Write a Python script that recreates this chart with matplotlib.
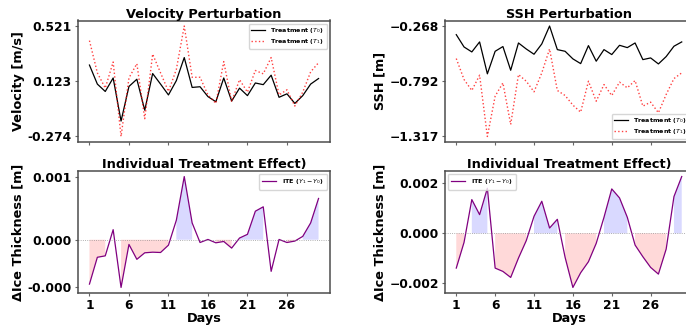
import numpy as np
import matplotlib
matplotlib.use("Agg")
import matplotlib.pyplot as plt
from matplotlib.ticker import FixedLocator, FixedFormatter

days = np.arange(1, 31)
day_ticks = [1, 6, 11, 16, 21, 26]

vel_t0 = [0.240, 0.103, 0.050, 0.147, -0.163, 0.086, 0.138, -0.085, 0.179, 0.103,
          0.025, 0.128, 0.294, 0.079, 0.084, 0.013, -0.024, 0.147, -0.019, 0.074,
          0.020, 0.111, 0.099, 0.167, 0.008, 0.033, -0.036, 0.020, 0.103, 0.143]
vel_t1 = [0.416, 0.184, 0.074, 0.262, -0.274, 0.147, 0.250, -0.146, 0.319, 0.184,
          0.050, 0.209, 0.521, 0.152, 0.152, 0.025, -0.036, 0.265, -0.024, 0.135,
          0.045, 0.201, 0.177, 0.294, 0.025, 0.062, -0.055, 0.045, 0.191, 0.257]

ssh_t0 = [-0.350, -0.467, -0.514, -0.419, -0.722, -0.508, -0.463, -0.688, -0.429, -0.486,
          -0.536, -0.438, -0.268, -0.492, -0.508, -0.580, -0.625, -0.454, -0.602, -0.492,
          -0.539, -0.451, -0.473, -0.429, -0.587, -0.571, -0.628, -0.558, -0.460, -0.419]
ssh_t1 = [-0.577, -0.776, -0.880, -0.735, -1.317, -0.934, -0.808, -1.203, -0.729, -0.792,
          -0.893, -0.713, -0.486, -0.880, -0.928, -1.019, -1.086, -0.792, -0.982, -0.824,
          -0.928, -0.801, -0.855, -0.786, -1.029, -0.991, -1.092, -0.918, -0.767, -0.713]

ite_vel = [-0.000435, -0.000172, -0.000158, 0.000099, -0.000468, -0.000046, -0.000192,
           -0.000128, -0.000122, -0.000125, -0.000053, 0.000192, 0.000620, 0.000165,
           -0.000027, 0.000003, -0.000030, -0.000017, -0.000082, 0.000017, 0.000053,
           0.000280, 0.000323, -0.000310, 0.000003, -0.000027, -0.000013, 0.000033,
           0.000165, 0.000405]
ite_ssh = [-0.001387, -0.000360, 0.001347, 0.000747, 0.001800, -0.001387, -0.001520,
           -0.001760, -0.000987, -0.000293, 0.000680, 0.001280, 0.000213, 0.000560,
           -0.000960, -0.002160, -0.001573, -0.001133, -0.000400, 0.000640, 0.001773,
           0.001413, 0.000640, -0.000467, -0.000933, -0.001360, -0.001627, -0.000627,
           0.001467, 0.002267]

W, H = 686, 327
fig = plt.figure(figsize=(W / 100, H / 100), dpi=100)

def px_axes(x0, y0, x1, y1):
    return fig.add_axes([x0 / W, 1 - y1 / H, (x1 - x0) / W, (y1 - y0) / H])

ax1 = px_axes(78, 20.5, 330, 142)
ax2 = px_axes(445, 20.5, 693, 142)
ax3 = px_axes(78, 171, 330, 293)
ax4 = px_axes(445, 171, 693, 293)

TS = 9.3
TK = 8.8
LG = 4.6

def style(ax):
    for s in ax.spines.values():
        s.set_color('0.3')
        s.set_linewidth(1.1)
    ax.tick_params(axis='both', length=2.5, width=0.8, color='0.4', labelsize=TK, pad=2)
    for lab in ax.get_xticklabels() + ax.get_yticklabels():
        lab.set_fontweight('bold')
    ax.xaxis.set_major_locator(FixedLocator(day_ticks))

def set_yticks(ax, vals, labels):
    ax.yaxis.set_major_locator(FixedLocator(vals))
    ax.yaxis.set_major_formatter(FixedFormatter(labels))

# Velocity
ax1.plot(days, vel_t0, color='black', lw=0.9, label='Treatment ($T_0$)')
ax1.plot(days, vel_t1, color='red', lw=1.0, ls=':', alpha=0.75, label='Treatment ($T_1$)')
allv = np.array(vel_t0 + vel_t1)
vt = np.linspace(allv.min(), allv.max(), 3)
set_yticks(ax1, vt, [f"{v:.3f}" for v in vt])
ax1.set_title('Velocity Perturbation', fontsize=TS, fontweight='bold', pad=2)
ax1.set_ylabel('Velocity [m/s]', fontsize=TS, fontweight='bold', labelpad=2)
ax1.legend(loc='upper right', prop={'size': LG, 'weight': 'bold'}, handlelength=2.2,
           borderpad=0.4, labelspacing=0.3)
style(ax1)
ax1.tick_params(labelbottom=False)

# SSH
ax2.plot(days, ssh_t0, color='black', lw=0.9, label='Treatment ($T_0$)')
ax2.plot(days, ssh_t1, color='red', lw=1.0, ls=':', alpha=0.75, label='Treatment ($T_1$)')
alls = np.array(ssh_t0 + ssh_t1)
st = np.linspace(alls.min(), alls.max(), 3)
set_yticks(ax2, st, [f"{v:.3f}".replace('-', '\u2212') for v in st])
ax2.set_title('SSH Perturbation', fontsize=TS, fontweight='bold', pad=2)
ax2.set_ylabel('SSH [m]', fontsize=TS, fontweight='bold', labelpad=2)
ax2.legend(loc='lower right', prop={'size': LG, 'weight': 'bold'}, handlelength=2.2,
           borderpad=0.4, labelspacing=0.3)
style(ax2)
ax2.tick_params(labelbottom=False)

def ite_plot(ax, vals):
    v = np.array(vals)
    ax.plot(days, v, color='purple', lw=0.9, label='ITE ($Y_1 - Y_0$)')
    ax.axhline(0, color='gray', lw=0.6, ls=':', alpha=0.8)
    ax.fill_between(days, 0, v, where=v > 0, color='blue', alpha=0.15, lw=0)
    ax.fill_between(days, 0, v, where=v < 0, color='red', alpha=0.15, lw=0)
    ax.set_title('Individual Treatment Effect)', fontsize=TS, fontweight='bold', pad=2)
    ax.set_ylabel('\u0394Ice Thickness [m]', fontsize=TS, fontweight='bold', labelpad=2)
    ax.set_xlabel('Days', fontsize=TS, fontweight='bold', labelpad=0)

ite_plot(ax3, ite_vel)
iv = np.array(ite_vel)
t3 = [iv.min(), 0.0, iv.max()]
set_yticks(ax3, t3, [f"{v:.3f}" for v in t3])
ax3.legend(loc='upper right', prop={'size': LG, 'weight': 'bold'}, handlelength=2.2,
           borderpad=0.5)
style(ax3)

ite_plot(ax4, ite_ssh)
t4 = [-0.002, 0.0, 0.002]
set_yticks(ax4, t4, [f"{v:.3f}".replace('-', '\u2212') for v in t4])
ax4.legend(loc='upper left', prop={'size': LG, 'weight': 'bold'}, handlelength=2.2,
           borderpad=0.5)
style(ax4)

fig.savefig('out.png', dpi=100)
